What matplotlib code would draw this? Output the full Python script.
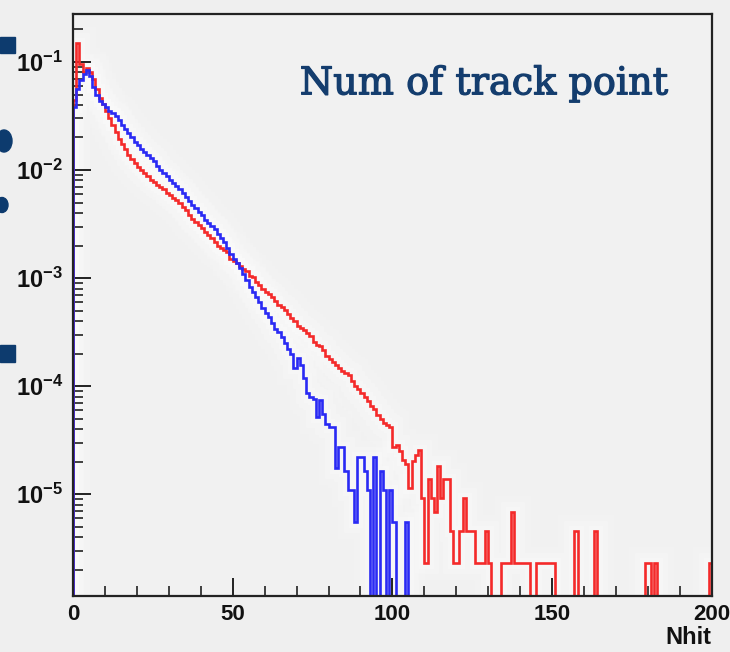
import numpy as np
import matplotlib
matplotlib.use("Agg")
import matplotlib.pyplot as plt
from matplotlib import ticker
from matplotlib.patches import Rectangle, Ellipse
import matplotlib.patheffects as pe

# ---------------- data (bin width 1, Nhit 0..200) ----------------
bin_edges_range = (0, 200)
n_bins = 200

red_values = [
    0.0447, 0.151, 0.0955, 0.0813, 0.0871, 0.0813, 0.0692, 0.0562, 0.0468, 0.0407,
    0.0355, 0.0302, 0.0263, 0.0224, 0.0195, 0.0174, 0.0155, 0.0138, 0.0126, 0.0115,
    0.0107, 0.0100, 0.00933, 0.00871, 0.00813, 0.00776, 0.00724, 0.00692, 0.00661, 0.00617,
    0.00589, 0.00550, 0.00525, 0.00490, 0.00457, 0.00427, 0.00380, 0.00355, 0.00331, 0.00309,
    0.00288, 0.00269, 0.00251, 0.00234, 0.00214, 0.00200, 0.00191, 0.00182, 0.00174, 0.00151,
    0.00145, 0.00138, 0.00129, 0.00120, 0.00115, 0.00105, 0.00102, 9.12e-4, 8.71e-4, 7.94e-4,
    7.41e-4, 7.08e-4, 6.61e-4, 6.17e-4, 5.62e-4, 5.37e-4, 5.01e-4, 4.68e-4, 4.27e-4, 3.98e-4,
    3.63e-4, 3.47e-4, 3.31e-4, 3.09e-4, 2.88e-4, 2.57e-4, 2.40e-4, 2.34e-4, 2.14e-4, 1.91e-4,
    1.78e-4, 1.66e-4, 1.58e-4, 1.48e-4, 1.38e-4, 1.32e-4, 1.26e-4, 1.12e-4, 1.00e-4, 9.33e-5,
    8.71e-5, 7.94e-5, 7.24e-5, 6.61e-5, 6.17e-5, 5.37e-5, 5.01e-5, 4.57e-5, 4.37e-5, 4.17e-5,
    2.75e-5, 2.82e-5, 2.51e-5, 2.09e-5, 1.91e-5, 1.15e-5, 2.04e-5, 2.29e-5, 2.57e-5, 9.2e-6,
    2.3e-6, 1.38e-5, 9.2e-6, 6.9e-6, 1.84e-5, 9.2e-6, 1.38e-5, 1.38e-5, 4.6e-6, 2.3e-6,
    2.3e-6, 4.6e-6, 9.2e-6, 4.6e-6, 4.6e-6, 4.6e-6, 2.3e-6, 2.3e-6, 2.3e-6, 4.6e-6,
    2.3e-6, 0.0, 0.0, 0.0, 2.3e-6, 2.3e-6, 2.3e-6, 6.9e-6, 2.3e-6, 2.3e-6,
    2.3e-6, 2.3e-6, 2.3e-6, 0.0, 0.0, 2.3e-6, 2.3e-6, 2.3e-6, 2.3e-6, 2.3e-6,
    2.3e-6, 0.0, 0.0, 0.0, 0.0, 0.0, 0.0, 4.6e-6, 0.0, 0.0,
    0.0, 0.0, 0.0, 4.6e-6, 0.0, 0.0, 0.0, 0.0, 0.0, 0.0,
    0.0, 0.0, 0.0, 0.0, 0.0, 0.0, 0.0, 0.0, 0.0, 2.3e-6,
    2.3e-6, 0.0, 2.3e-6, 0.0, 0.0, 0.0, 0.0, 0.0, 0.0, 0.0,
    0.0, 0.0, 0.0, 0.0, 0.0, 0.0, 0.0, 0.0, 0.0, 2.3e-6,
]

blue_values = [
    0.0380, 0.0562, 0.0676, 0.0776, 0.0851, 0.0741, 0.0589, 0.0490, 0.0437, 0.0407,
    0.0380, 0.0355, 0.0339, 0.0316, 0.0288, 0.0263, 0.0240, 0.0219, 0.0200, 0.0182,
    0.0170, 0.0158, 0.0148, 0.0138, 0.0129, 0.0120, 0.0110, 0.0100, 0.00933, 0.00871,
    0.00813, 0.00759, 0.00708, 0.00661, 0.00617, 0.00562, 0.00513, 0.00479, 0.00447, 0.00407,
    0.00380, 0.00347, 0.00324, 0.00302, 0.00282, 0.00257, 0.00234, 0.00214, 0.00191, 0.00166,
    0.00151, 0.00138, 0.00123, 0.00110, 9.55e-4, 8.32e-4, 7.41e-4, 6.61e-4, 6.03e-4, 5.25e-4,
    4.79e-4, 4.37e-4, 3.80e-4, 3.39e-4, 3.16e-4, 2.82e-4, 2.51e-4, 2.19e-4, 2.00e-4, 1.48e-4,
    1.82e-4, 1.58e-4, 1.20e-4, 8.71e-5, 7.94e-5, 7.59e-5, 5.13e-5, 7.41e-5, 5.50e-5, 4.47e-5,
    4.17e-5, 4.17e-5, 1.74e-5, 2.75e-5, 2.75e-5, 1.65e-5, 1.1e-5, 1.1e-5, 5.5e-6, 2.2e-5,
    2.2e-5, 1.65e-5, 1.1e-5, 0.0, 2.2e-5, 0.0, 1.65e-5, 1.1e-5, 0.0, 1.1e-5,
    5.5e-6, 0.0, 0.0, 0.0, 5.5e-6, 0.0, 0.0, 0.0, 0.0, 0.0,
] + [0.0] * 90

x_major_ticks = [0, 50, 100, 150, 200]
x_tick_labels = ["0", "50", "100", "150", "200"]
y_major_exponents = [-5, -4, -3, -2, -1]
x_label = "Nhit"
title_text = "Num of track point"

# ---------------- style ----------------
plt.rcParams["mathtext.fontset"] = "custom"
plt.rcParams["mathtext.rm"] = "Liberation Sans"
plt.rcParams["mathtext.bf"] = "Liberation Sans:bold"

BG = "#efefef"
fig = plt.figure(figsize=(7.30, 6.52), dpi=100, facecolor=BG)
ax = fig.add_axes([0.100, 0.0859, 0.875, 0.8926])
ax.set_facecolor("#f1f1f1")

edges = np.linspace(bin_edges_range[0], bin_edges_range[1], n_bins + 1)
red = np.asarray(red_values)
blue = np.asarray(blue_values)
floor = 1e-12
red_d = np.where(red > 0, red, floor)
blue_d = np.where(blue > 0, blue, floor)

# soft halo seen around the curves in the reference
for lw, a in ((24, 0.12), (15, 0.18), (8, 0.25)):
    for vals in (red_d, blue_d):
        ax.stairs(vals, edges, baseline=floor, color="white", lw=lw, alpha=a, zorder=1)

ax.stairs(red_d, edges, baseline=floor, color="#f42a2a", lw=1.9, zorder=3)
ax.stairs(blue_d, edges, baseline=floor, color="#2a2af4", lw=1.9, zorder=4)

ax.set_yscale("log")
ax.set_xlim(0, 200)
ax.set_ylim(1.14e-6, 0.278)

ax.set_xticks(x_major_ticks)
ax.set_xticklabels(x_tick_labels)
ax.xaxis.set_minor_locator(ticker.MultipleLocator(10))
ax.set_yticks([10.0 ** e for e in y_major_exponents])
ax.set_yticklabels([r"$\mathbf{10^{%d}}$" % e for e in y_major_exponents])
ax.yaxis.set_minor_locator(ticker.LogLocator(base=10, subs=np.arange(2, 10)))
ax.yaxis.set_minor_formatter(ticker.NullFormatter())

ax.tick_params(axis="both", which="major", direction="in", length=13, width=1.4,
               color="#222222", top=False, right=False)
ax.tick_params(axis="both", which="minor", direction="in", length=7, width=1.2,
               color="#222222", top=False, right=False)
ax.tick_params(axis="x", which="major", pad=6, labelsize=16)
ax.tick_params(axis="y", which="major", pad=7, labelsize=17)
for lab in ax.get_xticklabels():
    lab.set_fontfamily("Liberation Sans")
    lab.set_fontweight("bold")
    lab.set_color("#111111")
for lab in ax.get_yticklabels():
    lab.set_color("#111111")

for sp in ax.spines.values():
    sp.set_linewidth(1.6)
    sp.set_color("#222222")
    sp.set_zorder(5)

fig.text(0.975, 0.004, x_label, ha="right", va="bottom", fontsize=17,
         fontweight="bold", family="Liberation Sans", color="#111111")

ax.text(0.355, 0.862, title_text, transform=ax.transAxes, ha="left", va="baseline",
        fontsize=27.5, family="DejaVu Serif", color="#143d6e",
        path_effects=[pe.withStroke(linewidth=0.9, foreground="#143d6e")])

# fragments of slide decoration cut off at the left edge
deco = "#0d3b6e"
fig.patches.append(Rectangle((0, 1 - 53 / 652), 15 / 730, 16 / 652, transform=fig.transFigure,
                             color=deco, zorder=0))
fig.patches.append(Rectangle((0, 1 - 362 / 652), 15 / 730, 17 / 652, transform=fig.transFigure,
                             color=deco, zorder=0))
fig.patches.append(Ellipse((4 / 730, 1 - 141 / 652), 16 / 730, 22 / 652, transform=fig.transFigure,
                           color=deco, zorder=0))
fig.patches.append(Ellipse((2 / 730, 1 - 205 / 652), 12 / 730, 15 / 652, transform=fig.transFigure,
                           color=deco, zorder=0))

fig.savefig("out.png", dpi=100, facecolor=BG)
